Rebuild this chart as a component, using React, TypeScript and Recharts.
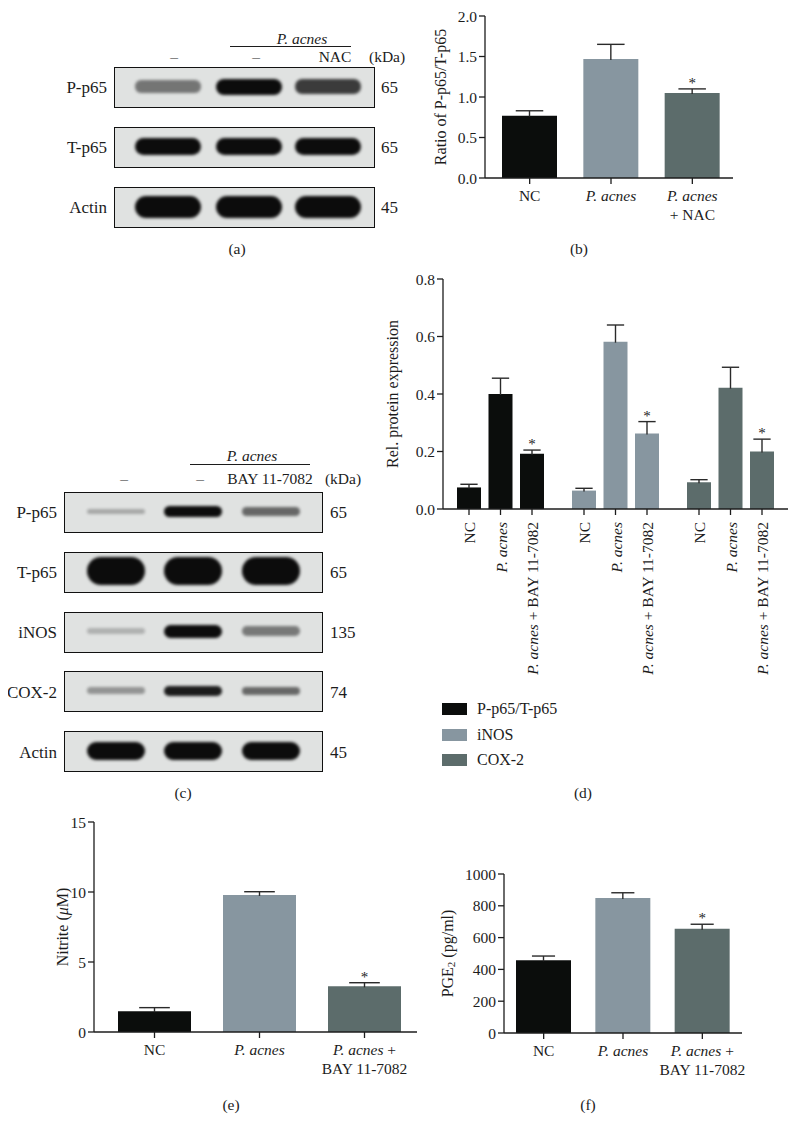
import React from 'react';
import { Bar, BarChart, Cell, Label, LabelList, XAxis, YAxis } from 'recharts';

const FONT = '"Liberation Serif", "Times New Roman", serif';
const INK = '#1c1c1c';
const BLACK = '#0b0d0c';
const STEEL = '#8796a0';
const SLATE = '#5c6c6b';
const groupColors = [BLACK, STEEL, SLATE];

// (b) ratio of P-p65 / T-p65
const nacGroups = ['NC', 'P. acnes', 'P. acnes\n+ NAC'];
const nacRatio = [0.77, 1.47, 1.05];
const nacErr = [0.06, 0.18, 0.05];
const nacSig = ['', '', '*'];
const nacTicks = [0, 0.5, 1, 1.5, 2];

// (d) relative protein expression
const proteins = ['P-p65/T-p65', 'iNOS', 'COX-2'];
const bayConditions = ['NC', 'P. acnes', 'P. acnes + BAY 11-7082'];
const relNC = [0.075, 0.064, 0.093];
const relNCErr = [0.011, 0.008, 0.009];
const relPa = [0.4, 0.582, 0.422];
const relPaErr = [0.055, 0.058, 0.071];
const relBay = [0.192, 0.263, 0.2];
const relBayErr = [0.013, 0.041, 0.043];
const relTicks = [0, 0.2, 0.4, 0.6, 0.8];

// (e) nitrite, (f) PGE2
const bayGroups = ['NC', 'P. acnes', 'P. acnes +\nBAY 11-7082'];
const baySig = ['', '', '*'];
const nitrite = [1.48, 9.79, 3.26];
const nitriteErr = [0.26, 0.23, 0.26];
const nitriteTicks = [0, 5, 10, 15];
const pge2 = [457, 849, 656];
const pge2Err = [27, 33, 28];
const pge2Ticks = [0, 200, 400, 600, 800, 1000];

// western blots: band intensity per lane (0..1)
const blotA = [
  { name: 'P-p65', kda: '65', levels: [0.62, 1, 0.85] },
  { name: 'T-p65', kda: '65', levels: [1, 1, 1] },
  { name: 'Actin', kda: '45', levels: [1, 1, 1] },
];
const blotC = [
  { name: 'P-p65', kda: '65', levels: [0.3, 1, 0.68] },
  { name: 'T-p65', kda: '65', levels: [1, 1, 1] },
  { name: 'iNOS', kda: '135', levels: [0.18, 1, 0.6] },
  { name: 'COX-2', kda: '74', levels: [0.45, 0.95, 0.68] },
  { name: 'Actin', kda: '45', levels: [1, 1, 1] },
];
const thickA: Record<string, number> = { 'P-p65': 16, 'T-p65': 17, Actin: 22 };
const thickC: Record<string, number> = { 'P-p65': 11, 'T-p65': 28, iNOS: 13, 'COX-2': 11, Actin: 18 };

const axisStroke = { stroke: INK, strokeWidth: 1.3 };
const tickFont = { fill: INK, fontSize: 15.5, fontFamily: FONT };

function rich(line: string) {
  const k = line.indexOf('P. acnes');
  if (k < 0) return line;
  return [
    line.slice(0, k),
    <tspan key="i" fontStyle="italic">P. acnes</tspan>,
    line.slice(k + 8),
  ];
}

const CatTick = (props: any) => {
  const { x, y, payload } = props;
  const lines = String(payload.value).split('\n');
  return (
    <text x={x} y={y} textAnchor="middle" fill={INK} fontSize={15.5} fontFamily={FONT}>
      {lines.map((ln, i) => (
        <tspan key={i} x={x} dy={i === 0 ? 15 : 19}>
          {rich(ln)}
        </tspan>
      ))}
    </text>
  );
};

const whisker = (capRatio: number) => (props: any) => {
  const { x, y, width, height } = props;
  if (x == null || y == null) return <g />;
  const cx = x + width / 2;
  const cap = (width * capRatio) / 2;
  return (
    <g>
      <line x1={cx} x2={cx} y1={y + height + 1} y2={y} stroke="#2a2a2a" strokeWidth={1.4} />
      <line x1={cx - cap} x2={cx + cap} y1={y} y2={y} stroke="#2a2a2a" strokeWidth={1.4} />
    </g>
  );
};

const yTitle = (cx: number, content: React.ReactNode) => (props: any) => {
  const vb = props.viewBox;
  const cy = vb.y + vb.height / 2;
  return (
    <text
      x={cx}
      y={cy}
      transform={`rotate(-90 ${cx} ${cy})`}
      textAnchor="middle"
      dominantBaseline="central"
      fill={INK}
      fontSize={16}
      fontFamily={FONT}
    >
      {content}
    </text>
  );
};

const condLabel = (name: string) => (props: any) => {
  const vb = props.viewBox ?? props;
  const cx = vb.x + vb.width / 2;
  const base = vb.y + vb.height;
  const ty = base + 13;
  return (
    <g>
      <line x1={cx} x2={cx} y1={base} y2={base + 6} stroke={INK} strokeWidth={1.3} />
      <text
        x={cx}
        y={ty}
        transform={`rotate(-90 ${cx} ${ty})`}
        textAnchor="end"
        dominantBaseline="central"
        fill={INK}
        fontSize={15.5}
        fontFamily={FONT}
      >
        {rich(name)}
      </text>
    </g>
  );
};

function Txt({ x, y, align = 'center', size = 15.5, italic, children }: any) {
  const tx = align === 'center' ? '-50%' : align === 'right' ? '-100%' : '0';
  return (
    <div
      style={{
        position: 'absolute',
        left: x,
        top: y,
        transform: `translate(${tx}, -50%)`,
        fontSize: size,
        fontStyle: italic ? 'italic' : 'normal',
        whiteSpace: 'nowrap',
        lineHeight: 1,
        color: INK,
      }}
    >
      {children}
    </div>
  );
}

function Blot({ x, y, w, h, lanes, bandW, thick, levels }: any) {
  return (
    <div
      style={{
        position: 'absolute',
        left: x,
        top: y,
        width: w,
        height: h,
        boxSizing: 'border-box',
        border: '1.6px solid #111',
        background: '#e0e2e1',
        overflow: 'hidden',
      }}
    >
      {levels.map((lv: number, i: number) => {
        const bh = thick * (0.35 + 0.65 * lv);
        return (
          <div
            key={i}
            style={{
              position: 'absolute',
              left: lanes[i] - bandW / 2,
              top: h / 2 - bh / 2 - 2,
              width: bandW,
              height: bh,
              borderRadius: bh / 2,
              background: '#0c0c0c',
              opacity: 0.2 + 0.8 * lv * lv,
              filter: 'blur(1.4px)',
            }}
          />
        );
      })}
    </div>
  );
}

function SimpleBars({ rows, ticks, domain, fmt, title, titleX, width, height, margin, yWidth, xHeight, pad, gap, cap }: any) {
  return (
    <BarChart width={width} height={height} data={rows} margin={margin} barCategoryGap={gap}>
      <XAxis
        dataKey="group"
        interval={0}
        height={xHeight}
        padding={{ left: pad, right: 0 }}
        tick={<CatTick />}
        tickSize={6}
        tickLine={axisStroke}
        axisLine={axisStroke}
      />
      <YAxis
        width={yWidth}
        domain={domain}
        ticks={ticks}
        allowDataOverflow
        tickFormatter={fmt}
        tick={tickFont}
        tickSize={6}
        tickLine={axisStroke}
        axisLine={axisStroke}
      >
        <Label content={yTitle(titleX, title)} />
      </YAxis>
      <Bar dataKey="value" stackId="s" isAnimationActive={false}>
        {rows.map((_: any, i: number) => (
          <Cell key={i} fill={groupColors[i]} />
        ))}
      </Bar>
      <Bar dataKey="err" stackId="s" shape={whisker(cap)} isAnimationActive={false}>
        <LabelList dataKey="sig" position="top" offset={1} fill={INK} fontSize={15} fontFamily={FONT} />
      </Bar>
    </BarChart>
  );
}

export default function App() {
  const nacRows = nacGroups.map((g, i) => ({ group: g, value: nacRatio[i], err: nacErr[i], sig: nacSig[i] }));
  const nitRows = bayGroups.map((g, i) => ({ group: g, value: nitrite[i], err: nitriteErr[i], sig: baySig[i] }));
  const pgeRows = bayGroups.map((g, i) => ({ group: g, value: pge2[i], err: pge2Err[i], sig: baySig[i] }));
  const relRows = proteins.map((p, i) => ({
    protein: p,
    nc: relNC[i],
    ncErr: relNCErr[i],
    pa: relPa[i],
    paErr: relPaErr[i],
    bay: relBay[i],
    bayErr: relBayErr[i],
    sig: '*',
  }));
  const relSeries = [
    { key: 'nc', errKey: 'ncErr', label: bayConditions[0], star: false },
    { key: 'pa', errKey: 'paErr', label: bayConditions[1], star: false },
    { key: 'bay', errKey: 'bayErr', label: bayConditions[2], star: true },
  ];

  const lanesA = [53, 134, 213];
  const lanesC = [51, 128, 206];

  return (
    <div
      style={{
        position: 'relative',
        width: 799,
        height: 1137,
        margin: -8,
        background: '#fff',
        fontFamily: FONT,
        overflow: 'hidden',
      }}
    >
      {/* (a) blot */}
      <Txt x={302} y={39} italic>P. acnes</Txt>
      <div style={{ position: 'absolute', left: 230, top: 46, width: 121, height: 1.3, background: INK }} />
      <Txt x={174} y={57}>–</Txt>
      <Txt x={256} y={57}>–</Txt>
      <Txt x={335} y={57}>NAC</Txt>
      <Txt x={369} y={57} align="left">(kDa)</Txt>
      {blotA.map((r, i) => (
        <React.Fragment key={r.name}>
          <Txt x={107} y={87 + i * 60} align="right" size={17}>{r.name}</Txt>
          <Blot x={114} y={67 + i * 60} w={261} h={41} lanes={lanesA} bandW={66} thick={thickA[r.name]} levels={r.levels} />
          <Txt x={381} y={87 + i * 60} align="left" size={17}>{r.kda}</Txt>
        </React.Fragment>
      ))}
      <Txt x={237} y={249}>(a)</Txt>

      {/* (b) */}
      <div style={{ position: 'absolute', left: 400, top: 0 }}>
        <SimpleBars
          rows={nacRows}
          ticks={nacTicks}
          domain={[0, 2]}
          fmt={(v: number) => v.toFixed(1)}
          title="Ratio of P-p65/T-p65"
          titleX={40}
          width={399}
          height={230}
          margin={{ top: 16, right: 66, bottom: 0, left: 0 }}
          yWidth={85}
          xHeight={52}
          pad={4}
          gap={13}
          cap={0.5}
        />
      </div>
      <Txt x={579} y={249}>(b)</Txt>

      {/* (c) blot */}
      <Txt x={252} y={456} italic>P. acnes</Txt>
      <div style={{ position: 'absolute', left: 190, top: 464, width: 120, height: 1.3, background: INK }} />
      <Txt x={124} y={479}>–</Txt>
      <Txt x={200} y={479}>–</Txt>
      <Txt x={270} y={479}>BAY 11-7082</Txt>
      <Txt x={343} y={479}>(kDa)</Txt>
      {blotC.map((r, i) => (
        <React.Fragment key={r.name + i}>
          <Txt x={57} y={512 + i * 60} align="right" size={17}>{r.name}</Txt>
          <Blot x={64} y={492 + i * 59.8} w={259} h={41} lanes={lanesC} bandW={58} thick={thickC[r.name]} levels={r.levels} />
          <Txt x={330} y={512 + i * 60} align="left" size={17}>{r.kda}</Txt>
        </React.Fragment>
      ))}
      <Txt x={183} y={793}>(c)</Txt>

      {/* (d) */}
      <div style={{ position: 'absolute', left: 380, top: 260 }}>
        <BarChart
          width={419}
          height={430}
          data={relRows}
          margin={{ top: 19, right: 11, bottom: 0, left: 0 }}
          barSize={24}
          barGap={7.5}
        >
          <XAxis dataKey="protein" height={181} tick={false} tickLine={false} axisLine={axisStroke} />
          <YAxis
            width={63}
            domain={[0, 0.8]}
            ticks={relTicks}
            allowDataOverflow
            tickFormatter={(v: number) => v.toFixed(1)}
            tick={tickFont}
            tickSize={6}
            tickLine={axisStroke}
            axisLine={axisStroke}
          >
            <Label content={yTitle(12, 'Rel. protein expression')} />
          </YAxis>
          {relSeries.map((s) => [
            <Bar key={s.key} dataKey={s.key} stackId={s.key} isAnimationActive={false}>
              {relRows.map((_, i) => (
                <Cell key={i} fill={groupColors[i]} />
              ))}
              <LabelList content={condLabel(s.label)} />
            </Bar>,
            <Bar key={s.errKey} dataKey={s.errKey} stackId={s.key} shape={whisker(0.72)} isAnimationActive={false}>
              {s.star && (
                <LabelList dataKey="sig" position="top" offset={1} fill={INK} fontSize={15} fontFamily={FONT} />
              )}
            </Bar>,
          ])}
        </BarChart>
      </div>
      {proteins.map((p, i) => (
        <React.Fragment key={p}>
          <div
            style={{
              position: 'absolute',
              left: 442,
              top: 703 + i * 25.5,
              width: 25,
              height: 12,
              background: groupColors[i],
            }}
          />
          <Txt x={477} y={709 + i * 25.5} align="left" size={16}>{p}</Txt>
        </React.Fragment>
      ))}
      <Txt x={583} y={793}>(d)</Txt>

      {/* (e) */}
      <div style={{ position: 'absolute', left: 30, top: 800 }}>
        <SimpleBars
          rows={nitRows}
          ticks={nitriteTicks}
          domain={[0, 15]}
          fmt={(v: number) => String(v)}
          title={
            <>
              Nitrite (<tspan fontStyle="italic">μ</tspan>M)
            </>
          }
          titleX={32}
          width={400}
          height={290}
          margin={{ top: 22, right: 13, bottom: 0, left: 0 }}
          yWidth={64}
          xHeight={58}
          pad={8}
          gap={16}
          cap={0.42}
        />
      </div>
      <Txt x={231} y={1105}>(e)</Txt>

      {/* (f) */}
      <div style={{ position: 'absolute', left: 430, top: 850 }}>
        <SimpleBars
          rows={pgeRows}
          ticks={pge2Ticks}
          domain={[0, 1000]}
          fmt={(v: number) => String(v)}
          title={
            <>
              PGE<tspan dy={4} fontSize={11}>2</tspan>
              <tspan dy={-4}> (pg/ml)</tspan>
            </>
          }
          titleX={17}
          width={369}
          height={240}
          margin={{ top: 24, right: 57, bottom: 0, left: 0 }}
          yWidth={74}
          xHeight={57}
          pad={0}
          gap={12}
          cap={0.42}
        />
      </div>
      <Txt x={588} y={1105}>(f)</Txt>
    </div>
  );
}
